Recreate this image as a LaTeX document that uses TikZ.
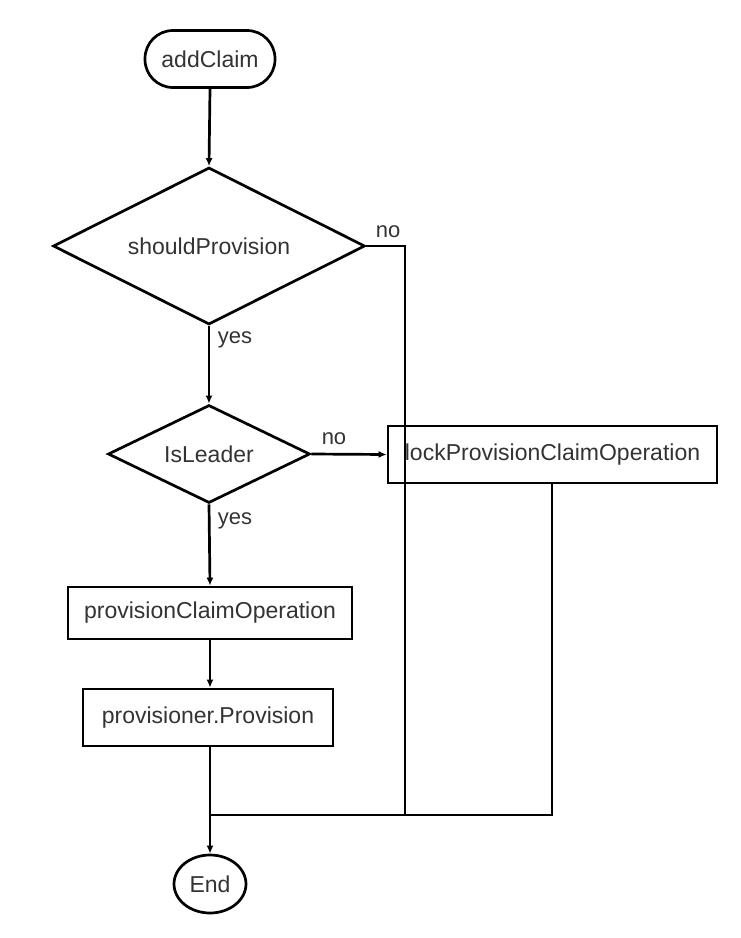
\documentclass[tikz,border=0pt]{standalone}
\usepackage{fontspec}
\setmainfont{Liberation Sans}
\usetikzlibrary{shapes.geometric,arrows.meta}
\begin{document}
\begin{tikzpicture}[x=1pt,y=-1pt,
  every node/.style={font=\fontsize{23}{26}\selectfont, text=black!80},
  box/.style={draw=black, line width=2.7pt, fill=white, rectangle, inner sep=0pt},
  term/.style={draw=black, line width=2.7pt, rectangle, rounded corners=28pt, inner sep=0pt},
  decide/.style={draw=black, line width=2.7pt, diamond, inner sep=0pt, aspect=2},
  endnode/.style={draw=black, line width=2.7pt, ellipse, inner sep=0pt},
  conn/.style={line width=2.7pt, draw=black},
  arr/.style={conn, -{Latex[length=8pt,width=7pt]}},
  lbl/.style={font=\fontsize{22}{24}\selectfont, text=black!80}
]
\useasboundingbox (0,0) rectangle (740,938);
\node[term, minimum width=130pt, minimum height=57pt] (start) at (210,59) {addClaim};
\node[decide, minimum width=312pt, minimum height=157pt] (d1) at (209,246) {shouldProvision};
\node[decide, minimum width=202pt, minimum height=98pt] (d2) at (209,454) {IsLeader};
\node[box, minimum width=329pt, minimum height=57pt] (lock) at (552.5,454.5) {lockProvisionClaimOperation};
\node[box, minimum width=284pt, minimum height=52pt] (prov) at (210,613) {provisionClaimOperation};
\node[box, minimum width=250pt, minimum height=57pt] (provr) at (208,717.5) {provisioner.Provision};
\node[endnode, minimum width=72pt, minimum height=58pt] (endn) at (210,884) {End};

\coordinate (c1) at (405,246);
\coordinate (c2) at (405,815);
\coordinate (j) at (210,815);
\coordinate (c3) at (552,815);

\draw[arr] (start.south) -- (d1.north);
\draw[conn] (d1.east) -- (c1) -- (c2);
\draw[arr] (d1.south) -- (d2.north);
\draw[arr] (d2.east) -- (lock.west);
\draw[arr] (d2.south) -- (prov.north);
\draw[arr] (prov.south) -- (prov.south |- provr.north);
\draw[conn] (provr.south -| j) -- (j);
\draw[arr] (j) -- (endn.north);
\draw[conn] (lock.south -| c3) -- (c3) -- (j);

\node[lbl] (l1) at (388,232) {no};
\node[lbl] (l2) at (235,340) {yes};
\node[lbl] (l3) at (334,439) {no};
\node[lbl] (l4) at (235,521) {yes};
\end{tikzpicture}
\end{document}
